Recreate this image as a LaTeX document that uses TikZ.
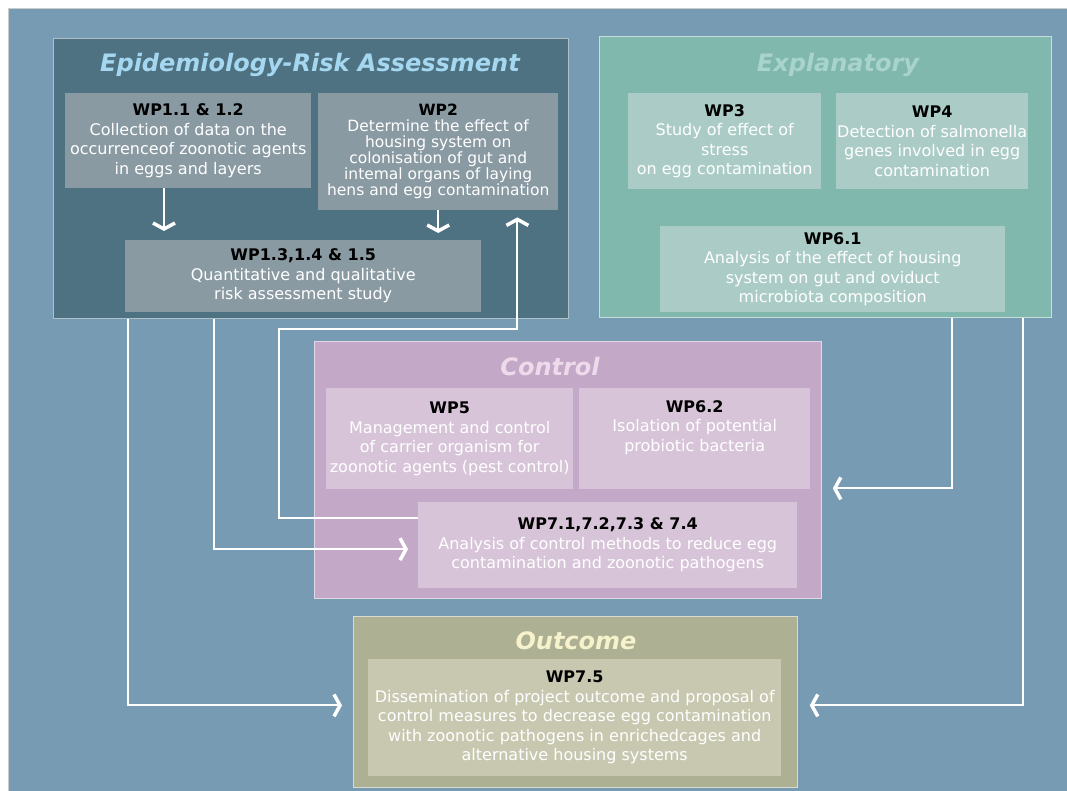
\documentclass[tikz,border=0pt]{standalone}
\usepackage{fontspec}
\setmainfont{DejaVu Sans}
\usetikzlibrary{arrows.meta}

\definecolor{bgblue}{HTML}{769BB3}
\definecolor{epifill}{HTML}{4E7282}
\definecolor{epibox}{HTML}{8A9AA3}
\definecolor{epititle}{HTML}{A5D8F0}
\definecolor{explfill}{HTML}{80B8AE}
\definecolor{explbox}{HTML}{ABCCC6}
\definecolor{expltitle}{HTML}{A9D3CD}
\definecolor{ctrlfill}{HTML}{C4A8C7}
\definecolor{ctrlbox}{HTML}{D8C4D9}
\definecolor{ctrltitle}{HTML}{EDDBEC}
\definecolor{outcfill}{HTML}{ADB092}
\definecolor{outcbox}{HTML}{C8C8B1}
\definecolor{outctitle}{HTML}{F6F2CC}

\newcommand{\wphead}[1]{{\color{black}\bfseries #1}\\}

\begin{document}
\begin{tikzpicture}[x=1pt, y=-1pt,
    grp/.style={anchor=north west, inner sep=0pt, fill=#1, draw=white!55!#1, line width=0.8pt},
    grptitle/.style={font=\fontsize{24}{28}\selectfont\bfseries\itshape},
    wpbox/.style={anchor=north west, inner sep=0pt, fill=#1, text=white, align=center,
        font=\fontsize{16}{19.5}\selectfont},
    flow/.style={draw=white, line width=2pt, shorten >=9pt,
        -{Straight Barb[length=6pt,width=22pt,line width=3.5pt]}}]

    \useasboundingbox (0,0) rectangle (1067,791);
    \fill[bgblue] (8,8) rectangle (1067,791);
    \draw[gray!40, line width=0.6pt] (8,791) -- (8,8) -- (1067,8);

    % Epidemiology
    \node[grp=epifill, minimum width=515pt, minimum height=280pt] (epi) at (53,38) {};
    \node[grptitle, text=epititle] (epit) at (310,65) {Epidemiology-Risk Assessment};
    \node[wpbox=epibox, minimum width=246pt, minimum height=95pt] (wp11) at (65,93)
        {\wphead{WP1.1 \& 1.2}Collection of data on the\\occurrenceof zoonotic agents\\in eggs and layers};
    \node[wpbox=epibox, minimum width=240pt, minimum height=117pt,
        font=\fontsize{15.5}{16}\selectfont] (wp2) at (318,93)
        {\wphead{WP2}Determine the effect of\\housing system on\\colonisation of gut and\\intemal organs of laying\\hens and egg contamination};
    \node[wpbox=epibox, minimum width=356pt, minimum height=72pt] (wp13) at (125,240)
        {\wphead{WP1.3,1.4 \& 1.5}Quantitative and qualitative\\risk assessment study};

    % Explanatory
    \node[grp=explfill, minimum width=452pt, minimum height=281pt] (expl) at (599,36) {};
    \node[grptitle, text=expltitle] (explt) at (838,65) {Explanatory};
    \node[wpbox=explbox, minimum width=193pt, minimum height=96pt] (wp3) at (628,93)
        {\wphead{WP3}Study of effect of\\stress\\on egg contamination};
    \node[wpbox=explbox, minimum width=192pt, minimum height=96pt] (wp4) at (836,93)
        {\wphead{WP4}Detection of salmonella\\genes involved in egg\\contamination};
    \node[wpbox=explbox, minimum width=345pt, minimum height=86pt] (wp61) at (660,226)
        {\wphead{WP6.1}Analysis of the effect of housing\\system on gut and oviduct\\microbiota composition};

    % Control
    \node[grp=ctrlfill, minimum width=507pt, minimum height=257pt] (ctrl) at (314,341) {};
    \node[grptitle, text=ctrltitle] (ctrlt) at (550,367) {Control};
    \node[wpbox=ctrlbox, minimum width=247pt, minimum height=101pt] (wp5) at (326,388)
        {\wphead{WP5}Management and control\\of carrier organism for\\zoonotic agents (pest control)};
    \node[wpbox=ctrlbox, minimum width=231pt, minimum height=101pt] (wp62) at (579,388)
        {\wphead{WP6.2}Isolation of potential\\probiotic bacteria\\[6pt]};
    \node[wpbox=ctrlbox, minimum width=379pt, minimum height=86pt] (wp71) at (418,502)
        {\wphead{WP7.1,7.2,7.3 \& 7.4}Analysis of control methods to reduce egg\\contamination and zoonotic pathogens};

    % Outcome
    \node[grp=outcfill, minimum width=444pt, minimum height=171pt] (outc) at (353,616) {};
    \node[grptitle, text=outctitle] (outct) at (576,641) {Outcome};
    \node[wpbox=outcbox, minimum width=413pt, minimum height=117pt] (wp75) at (368,659)
        {\wphead{WP7.5}Dissemination of project outcome and proposal of\\control measures to decrease egg contamination\\with zoonotic pathogens in enrichedcages and\\alternative housing systems};

    % links
    \coordinate (bendl) at (279,329);
    \draw[flow] ([xshift=99pt]wp11.south west) -- ([xshift=99pt]wp11.south west |- wp13.north);
    \draw[flow, shorten >=7pt] (wp2.south) -- (wp2.south |- wp13.north);
    \draw[flow, shorten >=7pt] ([yshift=27pt]wp71.west) -| (bendl) -| ([xshift=-41pt]wp2.south east);
    \draw[flow, shorten >=11pt] ([xshift=75pt]epi.south west) |- ([yshift=-3.5pt]outc.west);
    \draw[flow, shorten >=10pt] ([xshift=161pt]epi.south west) |- ([yshift=-4pt]wp71.west);
    \draw[flow, shorten >=11pt] ([xshift=-100pt]expl.south east) |- ([yshift=-18.5pt]ctrl.east);
    \draw[flow, shorten >=12pt] ([xshift=-29pt]expl.south east) |- ([yshift=-3.5pt]outc.east);

\end{tikzpicture}
\end{document}
